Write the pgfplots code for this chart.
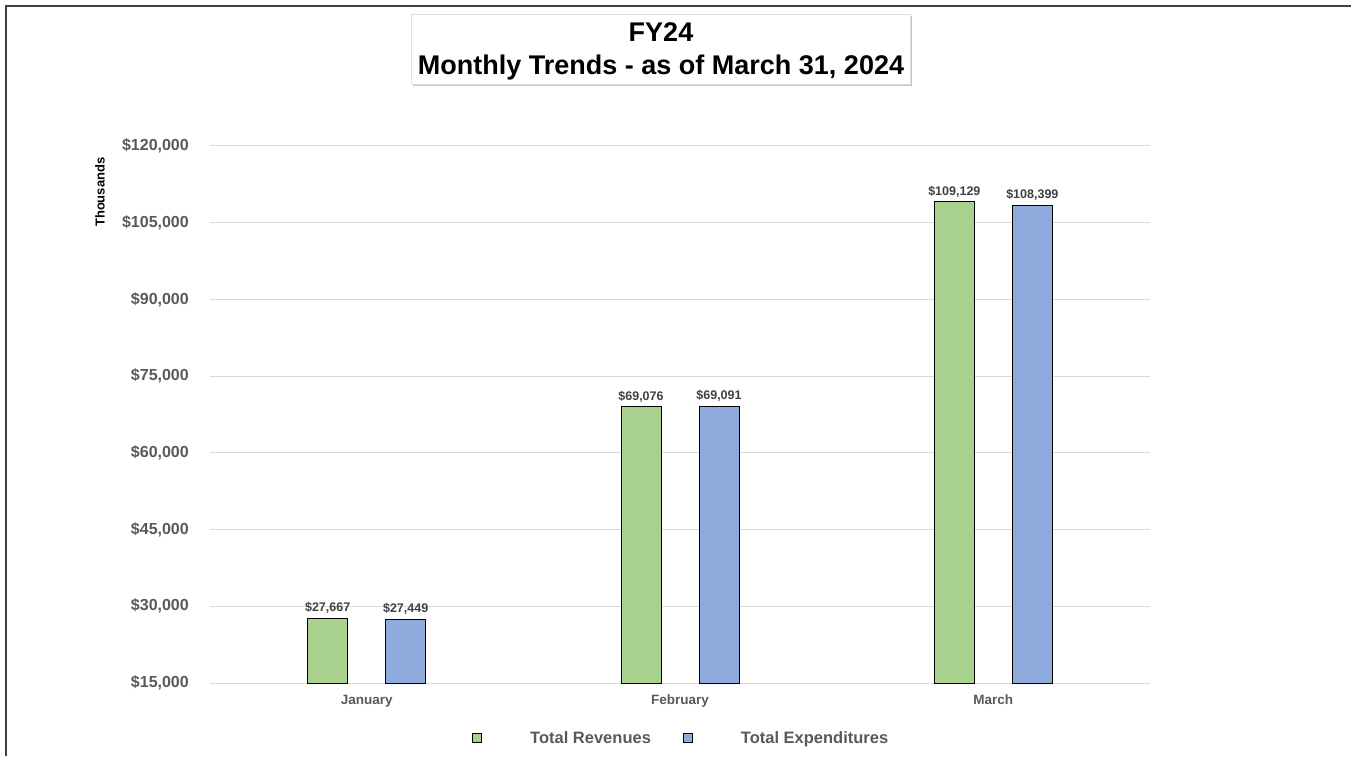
\documentclass[border=0pt]{standalone}
\usepackage{pgfplots}
\pgfplotsset{compat=1.18}
\usepackage{fontspec}
\setmainfont{Liberation Sans}
\usetikzlibrary{shadows}
\definecolor{revg}{HTML}{A9D18E}
\definecolor{expb}{HTML}{8FAADC}
\definecolor{txtg}{HTML}{595959}
\definecolor{lblg}{HTML}{404040}
\definecolor{gridg}{HTML}{D9D9D9}
\begin{document}
\begin{tikzpicture}
\path[use as bounding box] (0pt,0pt) rectangle (1351pt,756pt);
\draw[line width=2pt, color=black!75] (6pt,0pt) -- (6pt,750pt) -- (1351pt,750pt);
\node[draw=gray!25, fill=white, drop shadow={shadow xshift=1.5pt, shadow yshift=-2.5pt, fill=black!45}, minimum width=499pt, minimum height=70pt, inner sep=0pt] at (660.5pt,707pt) {};
\node[inner sep=0pt] at (661pt,724pt) {\fontsize{27}{32}\selectfont\bfseries FY24};
\node[inner sep=0pt] at (661pt,688pt) {\fontsize{27}{32}\selectfont\bfseries Monthly Trends - as of March 31, 2024};
\begin{axis}[
  at={(210pt,73pt)}, anchor=south west,
  scale only axis, width=940pt, height=537pt,
  xmin=-0.5, xmax=2.5, ymin=15000, ymax=120000,
  scaled y ticks=false,
  ybar=38pt, bar width=40pt,
  axis x line*=bottom, axis y line*=left,
  x axis line style={draw=gridg, line width=1pt},
  y axis line style={draw=none},
  major tick length=0pt,
  ymajorgrids, grid style={draw=gridg, line width=1pt},
  xtick={0,1,2}, xticklabels={January,February,March},
  xticklabel style={font=\fontsize{13.5}{16}\selectfont\bfseries, text=txtg, inner sep=0pt, text height=10pt, text depth=3pt, anchor=north, yshift=-11.7pt},
  ytick={15000,30000,45000,60000,75000,90000,105000,120000},
  yticklabels={{\$15,000},{\$30,000},{\$45,000},{\$60,000},{\$75,000},{\$90,000},{\$105,000},{\$120,000}},
  yticklabel style={font=\fontsize{16}{19}\selectfont\bfseries, text=txtg, inner sep=0pt, anchor=east, xshift=-21pt},
  ylabel={Thousands},
  every axis y label/.style={at={(axis description cs:-0.117,0.914)}, rotate=90, anchor=center, font=\fontsize{13}{15}\selectfont\bfseries, text=black},
  /pgf/number format/assume math mode=true,
  nodes near coords={\$\pgfmathprintnumber[fixed,precision=0,1000 sep={,}]{\pgfplotspointmeta}},
  nodes near coords style={font=\fontsize{12.5}{15}\selectfont\bfseries, text=lblg, anchor=south, inner sep=4pt},
  legend columns=-1,
  legend cell align=left,
  legend style={at={(axis description cs:0.2415,-0.1024)}, anchor=west, draw=none, fill=none,
    nodes={inner sep=0pt, font=\fontsize{16.5}{19}\selectfont\bfseries, text=txtg}},
]
\addplot[fill=revg, draw=black, line width=1pt,
  legend image code/.code={\path[draw=none,fill=none] (-32pt,0pt) -- (58pt,0pt); \draw[fill=revg, draw=black, line width=0.8pt] (0pt,-4.5pt) rectangle (9pt,4.5pt);}]
  coordinates {(0,27667) (1,69076) (2,109129)};
\addlegendentry{Total Revenues}
\addplot[fill=expb, draw=black, line width=1pt,
  legend image code/.code={\path[draw=none,fill=none] (-32pt,0pt) -- (58pt,0pt); \draw[fill=expb, draw=black, line width=0.8pt] (0pt,-4.5pt) rectangle (9pt,4.5pt);}]
  coordinates {(0,27449) (1,69091) (2,108399)};
\addlegendentry{Total Expenditures}
\end{axis}
\end{tikzpicture}
\end{document}
